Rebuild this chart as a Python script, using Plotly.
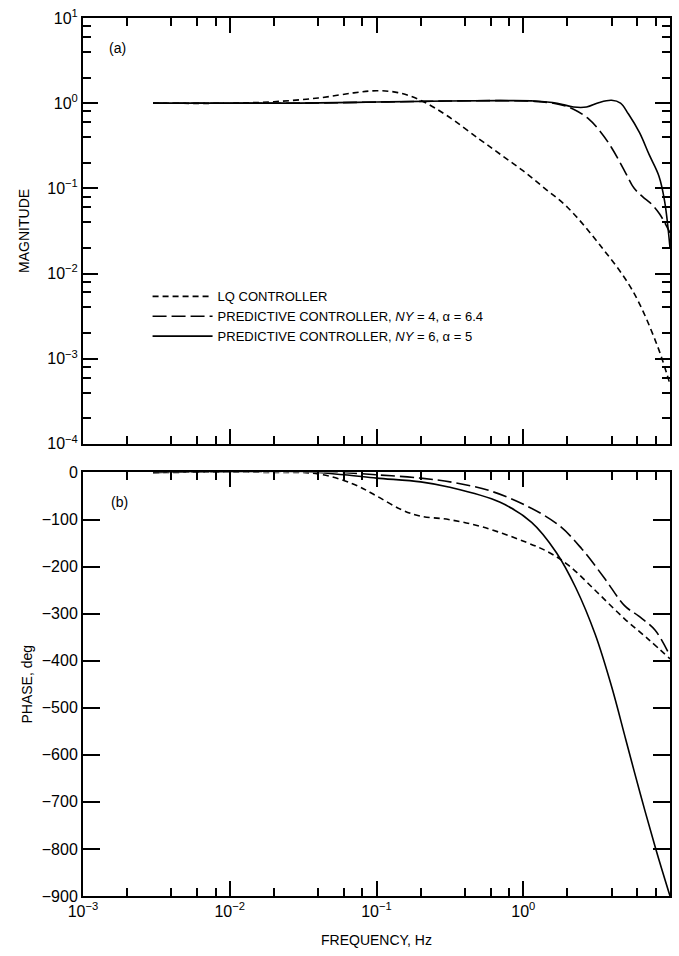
import plotly.graph_objects as go
from plotly.subplots import make_subplots

FONT = "Liberation Sans, Arial, Helvetica, sans-serif"

# ---- (a) magnitude ----------------------------------------------------------
lq_mag_f = [0.003, 0.01, 0.02, 0.04, 0.07, 0.1, 0.14, 0.2, 0.3, 0.5, 0.7, 1.0,
            1.4, 2.0, 3.3, 5.5, 8.1, 10.0]
lq_mag = [1.0, 1.0, 1.04, 1.15, 1.32, 1.4, 1.33, 1.08, 0.72, 0.38, 0.25, 0.16,
          0.1, 0.06, 0.022, 0.0065, 0.0015, 0.0005]

ny4_mag_f = [0.003, 0.03, 0.1, 0.3, 0.7, 1.2, 1.7, 2.2, 2.8, 3.3, 4.0, 5.0,
             5.7, 6.5, 7.5, 8.5, 10.0]
ny4_mag = [1.0, 1.0, 1.03, 1.06, 1.07, 1.05, 0.98, 0.85, 0.65, 0.48, 0.3, 0.15,
           0.1, 0.08, 0.065, 0.05, 0.03]

ny6_mag_f = [0.003, 0.03, 0.1, 0.3, 0.7, 1.2, 1.7, 2.2, 2.7, 3.3, 4.0, 4.6,
             5.2, 6.2, 7.2, 8.4, 9.2, 10.0]
ny6_mag = [1.0, 1.0, 1.03, 1.06, 1.07, 1.06, 1.0, 0.9, 0.9, 1.02, 1.08, 1.0,
           0.75, 0.45, 0.25, 0.14, 0.07, 0.02]

# ---- (b) phase, deg ---------------------------------------------------------
lq_ph_f = [0.003, 0.02, 0.04, 0.07, 0.1, 0.15, 0.2, 0.31, 0.53, 1.04, 1.5,
           2.05, 3.2, 4.9, 7.1, 10.0]
lq_ph = [0, 0, -3, -25, -50, -80, -93, -100, -116, -148, -170, -198, -255,
         -311, -354, -396]

ny4_ph_f = [0.003, 0.03, 0.05, 0.1, 0.2, 0.33, 0.58, 1.04, 1.76, 2.5, 3.6,
            4.9, 6.1, 7.9, 10.0]
ny4_ph = [0, 2, 1, -5, -12, -21, -38, -70, -113, -162, -226, -283, -305,
          -335, -390]

ny6_ph_f = [0.003, 0.03, 0.06, 0.1, 0.2, 0.31, 0.69, 1.14, 1.68, 2.28, 3.1,
            4.0, 5.0, 6.3, 8.0, 10.0]
ny6_ph = [0, 2, -5, -12, -20, -31, -63, -106, -170, -245, -345, -455, -568,
          -685, -800, -900]

names = ["LQ CONTROLLER",
         "PREDICTIVE CONTROLLER, <i>NY</i> = 4, \u03b1 = 6.4",
         "PREDICTIVE CONTROLLER, <i>NY</i> = 6, \u03b1 = 5"]
dashes = ["6px,4px", "14px,5px", "solid"]

mag_tick_vals = [1e-4, 1e-3, 1e-2, 1e-1, 1e0, 1e1]
mag_tick_text = ["10<sup>\u22124</sup>", "10<sup>\u22123</sup>",
                 "10<sup>\u22122</sup>", "10<sup>\u22121</sup>",
                 "10<sup>0</sup>", "10<sup>1</sup>"]
phase_tick_vals = [0, -100, -200, -300, -400, -500, -600, -700, -800, -900]
freq_tick_vals = [1e-3, 1e-2, 1e-1, 1e0, 1e1]
freq_tick_text = ["10<sup>\u22123</sup>", "10<sup>\u22122</sup>",
                  "10<sup>\u22121</sup>", "10<sup>0</sup>", "10<sup>1</sup>"]

fig = make_subplots(rows=2, cols=1)

mag_series = [(lq_mag_f, lq_mag), (ny4_mag_f, ny4_mag), (ny6_mag_f, ny6_mag)]
ph_series = [(lq_ph_f, lq_ph), (ny4_ph_f, ny4_ph), (ny6_ph_f, ny6_ph)]

for (f, m), name, dash in zip(mag_series, names, dashes):
    fig.add_trace(go.Scatter(x=f, y=m, mode="lines", name=name,
                             line=dict(color="black", width=1.6, dash=dash,
                                       shape="spline", smoothing=1.0)),
                  row=1, col=1)
for (f, p), name, dash in zip(ph_series, names, dashes):
    fig.add_trace(go.Scatter(x=f, y=p, mode="lines", name=name, showlegend=False,
                             line=dict(color="black", width=1.6, dash=dash,
                                       shape="spline", smoothing=1.0)),
                  row=2, col=1)


def minor_log(lo, hi):
    vals = []
    for e in range(lo, hi):
        for k in (2, 4, 6, 8):
            vals.append(k * 10.0 ** e)
    return vals


axis_common = dict(showline=True, linecolor="black", linewidth=2,
                   mirror="ticks", ticks="inside", tickcolor="black",
                   tickwidth=1.5, showgrid=False, zeroline=False,
                   tickfont=dict(family=FONT, size=16, color="black"))

x_common = dict(axis_common, type="log", range=[-3, 1], tickmode="array",
                tickvals=freq_tick_vals, ticktext=freq_tick_text, ticklen=15,
                minor=dict(tickmode="array", tickvals=minor_log(-3, 1),
                           ticks="inside", ticklen=8, tickcolor="black",
                           tickwidth=1.5))

fig.update_layout(
    width=679, height=956,
    paper_bgcolor="white", plot_bgcolor="white",
    margin=dict(l=83, r=7, t=15, b=60),
    font=dict(family=FONT, size=14, color="black"),
    xaxis=dict(x_common, showticklabels=False, anchor="y"),
    xaxis2=dict(x_common, anchor="y2",
                title=dict(text="FREQUENCY, Hz", standoff=16,
                           font=dict(family=FONT, size=14))),
    yaxis=dict(axis_common, type="log", range=[-4, 1], domain=[0.515, 1.0],
               tickmode="array", tickvals=mag_tick_vals,
               ticktext=mag_tick_text, ticklen=15,
               minor=dict(tickmode="array", tickvals=minor_log(-4, 1),
                          ticks="inside", ticklen=8, tickcolor="black",
                          tickwidth=1.5),
               title=dict(text="MAGNITUDE", standoff=14,
                          font=dict(family=FONT, size=14))),
    yaxis2=dict(axis_common, range=[-900, 0], domain=[0.0, 0.4824],
                tickmode="array", tickvals=phase_tick_vals, ticklen=17,
                title=dict(text="PHASE, deg", standoff=6,
                           font=dict(family=FONT, size=14))),
    legend=dict(x=0.11, y=0.70, xanchor="left", yanchor="top",
                bgcolor="rgba(0,0,0,0)", itemwidth=60,
                font=dict(family=FONT, size=13, color="black"),
                tracegroupgap=0),
    showlegend=True,
    annotations=[
        dict(text="(a)", xref="paper", yref="paper", x=0.058, y=0.966,
             showarrow=False, xanchor="center", yanchor="middle",
             font=dict(family=FONT, size=14)),
        dict(text="(b)", xref="paper", yref="paper", x=0.062, y=0.449,
             showarrow=False, xanchor="center", yanchor="middle",
             font=dict(family=FONT, size=14)),
    ],
)

fig.write_html("out.html")
